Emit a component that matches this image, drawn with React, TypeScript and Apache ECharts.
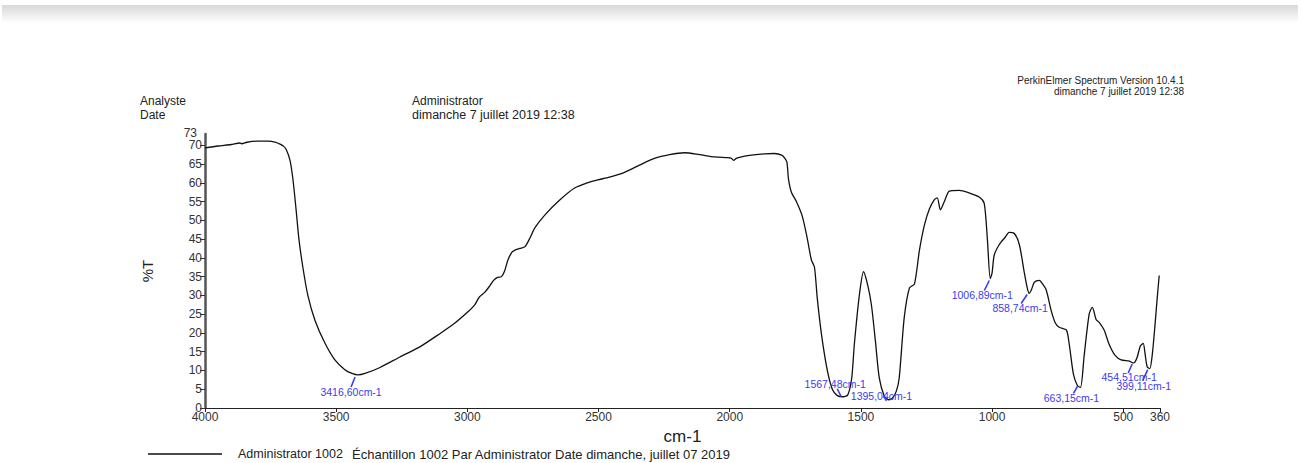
import React, { useEffect, useRef } from "react";
import * as echarts from "echarts";

// Spectrum trace (wavenumber cm-1, %T)
const wavenumbers = [
  4000, 3950, 3900, 3867, 3860, 3840, 3800, 3760, 3730, 3714, 3700, 3690, 3676, 3665, 3653, 3642, 3627, 3608,
  3581, 3543, 3505, 3467, 3440, 3417, 3390, 3333, 3257, 3181, 3105, 3050, 3000, 2972, 2955, 2934, 2915, 2900,
  2885, 2870, 2858, 2845, 2830, 2820, 2800, 2780, 2760, 2743, 2705, 2648, 2591, 2534, 2503, 2458, 2401, 2344,
  2287, 2229, 2172, 2115, 2058, 2010, 1995, 1985, 1975, 1963, 1925, 1867, 1830, 1800, 1790, 1782, 1776, 1765,
  1746, 1723, 1704, 1689, 1677, 1666, 1650, 1628, 1609, 1590, 1567, 1550, 1535, 1525, 1506, 1490, 1475, 1460,
  1445, 1430, 1411, 1395, 1380, 1365, 1354, 1335, 1315, 1296, 1277, 1258, 1239, 1220, 1209, 1197, 1182, 1163,
  1125, 1087, 1049, 1030, 1018, 1007, 1000, 992, 973, 950, 935, 915, 896, 877, 866, 859, 850, 839, 820, 812,
  794, 775, 760, 744, 717, 706, 690, 675, 663, 649, 630, 618, 603, 592, 573, 554, 531, 508, 477, 462, 455, 447,
  435, 424, 417, 409, 399, 389, 378, 371, 363,
];
const transmittance = [
  69.3, 69.8, 70.2, 70.6, 70.4, 70.8, 71.1, 71.1, 70.8, 70.3, 69.7, 68.8, 66, 61, 53, 45, 37.5, 30,
  23.4, 17.3, 12.8, 10.2, 9.2, 8.8, 9.2, 10.8, 13.6, 16.3, 19.8, 22.5, 25.5, 27.5, 29.5, 30.8, 32.5, 34.0,
  34.8, 35.0, 36.5, 39.5, 41.5, 42.0, 42.5, 43.0, 45.5, 48.0, 51.4, 55.4, 58.6, 60.2, 60.8, 61.5, 62.8, 64.7,
  66.5, 67.5, 68.0, 67.5, 66.9, 66.7, 66.6, 66.0, 66.5, 66.8, 67.3, 67.7, 67.8, 67.3, 66.5, 65.5, 61, 57.5,
  55, 51, 45, 39.5, 37.5, 29, 19.5, 10, 5, 3.3, 3.0, 3.5, 8, 17, 30, 36.3, 33, 27.5,
  18, 8, 3.2, 2.2, 2.6, 4.5, 8, 24, 32, 33, 42, 48.7, 53, 55.5, 56, 52.8, 55, 57.8,
  58, 57.3, 56.2, 54.5, 45, 34.5, 36, 40.7, 43.5, 45.5, 46.8, 46.5, 43.5, 36, 32, 30.5, 31.5, 33.5, 34, 33.5,
  31.5, 26, 22.8, 21.5, 20.8, 17, 9, 6, 5.5, 14, 25, 26.8, 23.5, 22.8, 20.8, 17, 14, 12.8, 12.5, 12, 12.3, 13.5,
  16.5, 17.2, 14.5, 11, 10.5, 14.5, 23, 29, 35.3,
];

const peakWavenumbers = [3416.6, 1567.48, 1395.04, 1006.89, 858.74, 663.15, 454.51, 399.11];
const peakTransmittance = [8.8, 3.0, 2.2, 34.5, 30.5, 5.5, 12.0, 10.5];
const peakLabels = [
  "3416,60cm-1", "1567,48cm-1", "1395,04cm-1", "1006,89cm-1",
  "858,74cm-1", "663,15cm-1", "454,51cm-1", "399,11cm-1",
];

const xTicks = [4000, 3500, 3000, 2500, 2000, 1500, 1000, 500, 360];
const yTicks = [0, 5, 10, 15, 20, 25, 30, 35, 40, 45, 50, 55, 60, 65, 70, 73];
const yMax = 73;

// layout of peak annotations (pixel offsets from the peak point): text center, line start, line end
const peakLayout = [
  { t: [-7, 17], a: [-3, 2], b: [-7, 12] },
  { t: [-8, -13], a: [-2, 0], b: [-6, -8] },
  { t: [-7, -4], a: [-2, 1], b: [-5, -4] },
  { t: [-8, 16], a: [-1, 2], b: [-6, 12] },
  { t: [-9, 14], a: [-2, 1], b: [-8, 10] },
  { t: [-9, 11], a: [-3, -1], b: [-7, 6] },
  { t: [-6, 14], a: [-3, 1], b: [-7, 10] },
  { t: [-6, 17], a: [-2, 1], b: [-7, 12] },
];

const FONT = "Liberation Sans, Arial, sans-serif";
const BLUE = "#3b3bf2";

export default function App() {
  const ref = useRef<HTMLDivElement>(null);
  useEffect(() => {
    if (!ref.current) return;
    const chart = echarts.init(ref.current, undefined, { renderer: "svg" });
    const data = wavenumbers.map((w, i) => [w, transmittance[i]]);
    chart.setOption({
      animation: false,
      backgroundColor: "#ffffff",
      grid: { left: 205, right: 141, top: 134, bottom: 55 },
      xAxis: {
        type: "value",
        min: 360,
        max: 4000,
        inverse: true,
        name: "cm-1",
        nameLocation: "middle",
        nameGap: 15,
        nameTextStyle: { fontSize: 17, color: "#222", fontFamily: FONT },
        axisLine: { show: true, lineStyle: { color: "#222", width: 1 } },
        axisTick: { show: true, length: 4, customValues: xTicks, lineStyle: { color: "#222" } },
        axisLabel: {
          customValues: xTicks,
          fontSize: 12,
          color: "#333",
          margin: 3,
          fontFamily: FONT,
          hideOverlap: false,
          showMinLabel: true,
          showMaxLabel: true,
          formatter: (v: number) => String(v),
        },
        splitLine: { show: false },
      },
      yAxis: {
        type: "value",
        min: 0,
        max: yMax,
        name: "%T",
        nameLocation: "middle",
        nameGap: 50,
        nameRotate: 90,
        nameTextStyle: { fontSize: 15, color: "#222", fontFamily: FONT },
        axisLine: { show: true, lineStyle: { color: "#555", width: 2.5 } },
        axisTick: { show: true, length: 5, customValues: yTicks, lineStyle: { color: "#333" } },
        axisLabel: {
          customValues: yTicks,
          fontSize: 12,
          color: "#333",
          margin: 3,
          fontFamily: FONT,
          hideOverlap: false,
          showMinLabel: true,
          showMaxLabel: false,
          formatter: (v: number) => String(v),
        },
        splitLine: { show: false },
      },
      series: [
        {
          type: "line",
          data,
          showSymbol: false,
          smooth: 0.25,
          lineStyle: { color: "#111", width: 1.3 },
        },
      ],
    });

    const graphics: any[] = [
      {
        type: "rect",
        shape: { x: 2, y: 5, width: 1296, height: 18 },
        style: {
          fill: new echarts.graphic.LinearGradient(0, 0, 0, 1, [
            { offset: 0, color: "#d8d8d8" },
            { offset: 1, color: "#ffffff" },
          ]),
        },
        silent: true,
      },
      { type: "text", x: 140, y: 101, style: { text: "Analyste", font: `12px ${FONT}`, fill: "#222", verticalAlign: "middle" } },
      { type: "text", x: 140, y: 115, style: { text: "Date", font: `12px ${FONT}`, fill: "#222", verticalAlign: "middle" } },
      { type: "text", x: 412, y: 101, style: { text: "Administrator", font: `12px ${FONT}`, fill: "#222", verticalAlign: "middle" } },
      { type: "text", x: 412, y: 115, style: { text: "dimanche 7 juillet 2019 12:38", font: `12.5px ${FONT}`, fill: "#222", verticalAlign: "middle" } },
      { type: "text", x: 1184, y: 80.5, style: { text: "PerkinElmer Spectrum Version 10.4.1", font: `10px ${FONT}`, fill: "#222", align: "right", verticalAlign: "middle" } },
      { type: "text", x: 1184, y: 91.5, style: { text: "dimanche 7 juillet 2019 12:38", font: `10px ${FONT}`, fill: "#222", align: "right", verticalAlign: "middle" } },
      { type: "line", shape: { x1: 148, y1: 454, x2: 222, y2: 454 }, style: { stroke: "#111", lineWidth: 1.5 } },
      { type: "text", x: 238, y: 454, style: { text: "Administrator 1002", font: `12.5px ${FONT}`, fill: "#222", verticalAlign: "middle" } },
      { type: "text", x: 352, y: 454, style: { text: "Échantillon 1002 Par Administrator Date dimanche, juillet 07 2019", font: `13px ${FONT}`, fill: "#222", verticalAlign: "middle" } },
    ];

    // top y label (max of the axis) drawn at its axis position
    const topPt = chart.convertToPixel({ gridIndex: 0 }, [4000, yMax]) as number[];
    graphics.push({
      type: "text",
      x: topPt[0] - 8,
      y: topPt[1] - 1,
      style: { text: String(yMax), font: `12px ${FONT}`, fill: "#333", align: "right", verticalAlign: "middle" },
    });

    peakWavenumbers.forEach((w, i) => {
      const p = chart.convertToPixel({ gridIndex: 0 }, [w, peakTransmittance[i]]) as number[];
      const L = peakLayout[i];
      graphics.push({
        type: "line",
        shape: { x1: p[0] + L.a[0], y1: p[1] + L.a[1], x2: p[0] + L.b[0], y2: p[1] + L.b[1] },
        style: { stroke: BLUE, lineWidth: 1.6 },
        z: 10,
      });
      graphics.push({
        type: "text",
        x: p[0] + L.t[0],
        y: p[1] + L.t[1],
        style: { text: peakLabels[i], font: `10.5px ${FONT}`, fill: BLUE, align: "center", verticalAlign: "middle" },
        z: 10,
      });
    });

    chart.setOption({ graphic: graphics });
    return () => chart.dispose();
  }, []);
  return (
    <div
      ref={ref}
      style={{ position: "fixed", left: 0, top: 0, width: 1301, height: 463, background: "#fff" }}
    />
  );
}
